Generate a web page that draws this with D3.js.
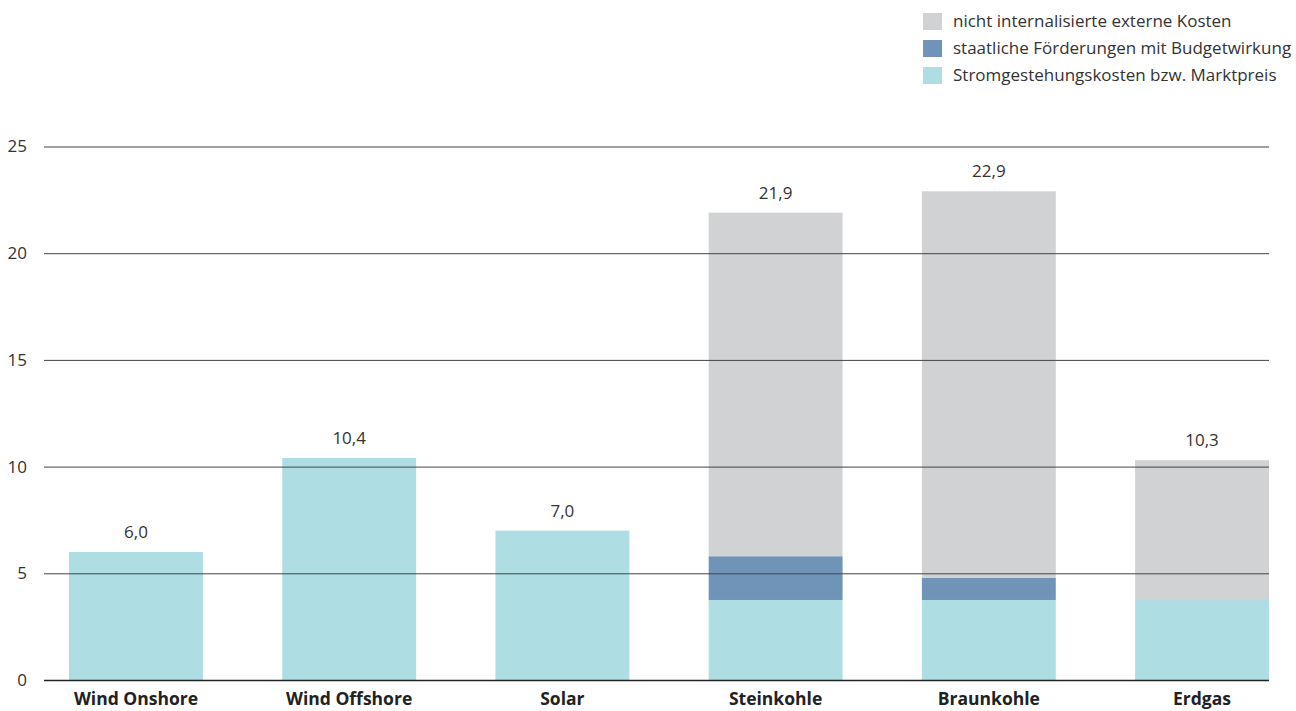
<!DOCTYPE html>
<html>
<head>
<meta charset="utf-8">
<script src="https://cdn.jsdelivr.net/npm/d3@7"></script>
<style>
  body { margin: 0; background: #fff; }
  svg text { font-family: "Open Sans", "Noto Sans", sans-serif; fill: #333; }
</style>
</head>
<body>
<div id="chart"></div>
<script>
// categories and stacked values (ct/kWh)
const categories = ["Wind Onshore", "Wind Offshore", "Solar", "Steinkohle", "Braunkohle", "Erdgas"];
const stromkosten = [6.0, 10.4, 7.0, 3.75, 3.75, 3.75];
const foerderungen = [0, 0, 0, 2.05, 1.03, 0];
const externeKosten = [0, 0, 0, 16.1, 18.12, 6.55];
const totalLabels = ["6,0", "10,4", "7,0", "21,9", "22,9", "10,3"];
const yTicks = [0, 5, 10, 15, 20, 25];

const seriesKeys = ["strom", "foerd", "extern"];
const colors = {strom: "#aedde3", foerd: "#7094b8", extern: "#d1d2d4"};
const legendItems = [
    {key: "extern", label: "nicht internalisierte externe Kosten"},
    {key: "foerd", label: "staatliche Förderungen mit Budgetwirkung"},
    {key: "strom", label: "Stromgestehungskosten bzw. Marktpreis"}
];

const width = 1296, height = 711;
const data = categories.map((c, i) => ({
    cat: c, strom: stromkosten[i], foerd: foerderungen[i], extern: externeKosten[i], label: totalLabels[i]
}));

const svg = d3.select("#chart").append("svg")
    .attr("width", width)
    .attr("height", height);

const x = d3.scaleBand()
    .domain(categories)
    .range([69, 1269])
    .paddingInner(0.372)
    .paddingOuter(0);

const y = d3.scaleLinear()
    .domain([0, 25])
    .range([680, 146.5]);

const stacked = d3.stack().keys(seriesKeys)(data);

// bars
svg.append("g").selectAll("g")
    .data(stacked)
    .join("g")
    .attr("fill", d => colors[d.key])
    .selectAll("rect")
    .data(d => d)
    .join("rect")
    .attr("x", d => x(d.data.cat))
    .attr("width", x.bandwidth())
    .attr("y", d => y(d[1]))
    .attr("height", d => y(d[0]) - y(d[1]));

// gridlines on top of bars
const yAxis = d3.axisLeft(y)
    .tickValues(yTicks)
    .tickSize(-(1269 - 44))
    .tickFormat(d3.format("d"));

const yG = svg.append("g")
    .attr("transform", "translate(44,0)")
    .call(yAxis);
yG.select(".domain").remove();
yG.selectAll(".tick line")
    .attr("stroke", d => d === 0 ? "#222" : "#444")
    .attr("stroke-width", d => d === 0 ? 1.4 : 1);
yG.selectAll(".tick text")
    .attr("x", -17)
    .style("font-size", "17px")
    .style("text-anchor", "end");

// value labels
svg.append("g").selectAll("text")
    .data(data)
    .join("text")
    .attr("x", d => x(d.cat) + x.bandwidth() / 2)
    .attr("y", d => y(d.strom + d.foerd + d.extern) - 14)
    .attr("text-anchor", "middle")
    .style("font-size", "17px")
    .text(d => d.label);

// category labels
svg.append("g").selectAll("text")
    .data(categories)
    .join("text")
    .attr("x", d => x(d) + x.bandwidth() / 2)
    .attr("y", 705)
    .attr("text-anchor", "middle")
    .style("font-size", "17.5px")
    .style("font-weight", "bold")
    .style("fill", "#222")
    .text(d => d);

// legend
const legend = svg.append("g").attr("transform", "translate(923,13)");
const item = legend.selectAll("g")
    .data(legendItems)
    .join("g")
    .attr("transform", (d, i) => `translate(0,${i * 27})`);
item.append("rect")
    .attr("width", 19)
    .attr("height", 17)
    .attr("fill", d => colors[d.key]);
item.append("text")
    .attr("x", 30)
    .attr("y", 14)
    .style("font-size", "17px")
    .text(d => d.label);
</script>
</body>
</html>
